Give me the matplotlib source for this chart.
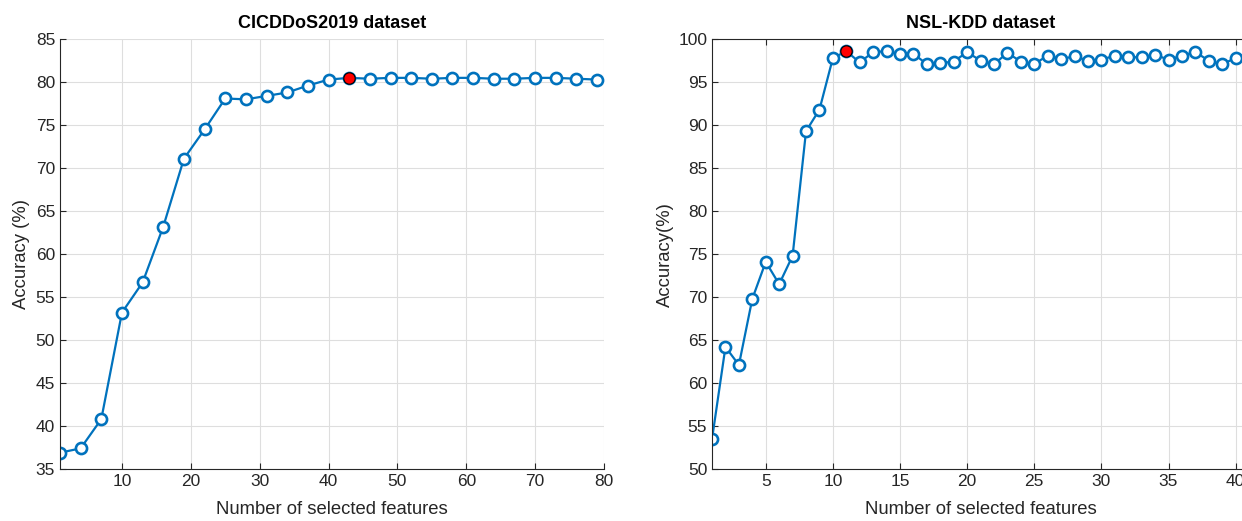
#!/usr/bin/env python3
"""Accuracy versus number of selected features, two datasets side by side."""

import matplotlib

matplotlib.use("Agg")
import matplotlib.pyplot as plt

plt.rcParams["font.family"] = ["Liberation Sans", "DejaVu Sans"]

# CICDDoS2019: every third feature count
cic_features = list(range(1, 80, 3))
cic_accuracy = [
    36.9, 37.4, 40.8, 53.2, 56.7, 63.2, 71.1, 74.5, 78.1, 78.0,
    78.4, 78.8, 79.6, 80.3, 80.5, 80.4, 80.5, 80.5, 80.4, 80.5,
    80.5, 80.4, 80.4, 80.5, 80.5, 80.4, 80.3,
]
cic_best = 43

# NSL-KDD: 1..40 features
nsl_features = list(range(1, 41))
nsl_accuracy = [
    53.5, 64.2, 62.1, 69.8, 74.1, 71.5, 74.8, 89.3, 91.8, 97.8,
    98.6, 97.3, 98.5, 98.6, 98.3, 98.3, 97.1, 97.2, 97.4, 98.5,
    97.5, 97.1, 98.4, 97.4, 97.1, 98.1, 97.7, 98.0, 97.5, 97.6,
    98.1, 97.9, 97.9, 98.2, 97.6, 98.1, 98.5, 97.5, 97.1, 97.8,
]
nsl_best = 11

LINE_BLUE = "#0072BD"
AX_COLOR = "#262626"
GRID_COLOR = "#dedede"


def style_axes(ax, box):
    """Apply MATLAB-like look to an axes."""
    ax.grid(True, color=GRID_COLOR, linewidth=0.8)
    ax.set_axisbelow(True)
    for side in ("left", "bottom", "top", "right"):
        ax.spines[side].set_color(AX_COLOR)
        ax.spines[side].set_linewidth(0.8)
    if not box:
        ax.spines["top"].set_visible(False)
        ax.spines["right"].set_visible(False)
    ax.tick_params(
        direction="in",
        length=4,
        width=0.8,
        color=AX_COLOR,
        labelcolor=AX_COLOR,
        labelsize=12.5,
        top=box,
        right=False,
    )


def plot_curve(ax, x, y, best):
    ax.plot(
        x, y, "-o",
        color=LINE_BLUE,
        linewidth=1.6,
        markersize=8,
        markerfacecolor="white",
        markeredgecolor=LINE_BLUE,
        markeredgewidth=1.9,
    )
    ax.plot(
        [best], [y[x.index(best)]], "o",
        markersize=8.2,
        markerfacecolor="red",
        markeredgecolor="black",
        markeredgewidth=0.8,
    )


fig = plt.figure(figsize=(12.42, 5.21), dpi=100)

ax1 = fig.add_axes([0.0483, 0.0998, 0.438, 0.825])
plot_curve(ax1, cic_features, cic_accuracy, cic_best)
ax1.set_xlim(1, 80)
ax1.set_ylim(35, 85)
ax1.set_xticks(range(10, 81, 10))
ax1.set_yticks(range(35, 86, 5))
style_axes(ax1, box=False)
ax1.set_title("CICDDoS2019 dataset", fontsize=13, fontweight="bold", pad=8)
ax1.set_xlabel("Number of selected features", fontsize=13.3, color=AX_COLOR, labelpad=9)
ax1.set_ylabel("Accuracy (%)", fontsize=13.3, color=AX_COLOR, labelpad=4)

ax2 = fig.add_axes([0.5733, 0.0998, 0.4324, 0.825])
plot_curve(ax2, nsl_features, nsl_accuracy, nsl_best)
ax2.set_xlim(1, 41)
ax2.set_ylim(50, 100)
ax2.set_xticks(range(5, 41, 5))
ax2.set_yticks(range(50, 101, 5))
style_axes(ax2, box=True)
ax2.set_title("NSL-KDD dataset", fontsize=13, fontweight="bold", pad=8)
ax2.set_xlabel("Number of selected features", fontsize=13.3, color=AX_COLOR, labelpad=9)
ax2.set_ylabel("Accuracy(%)", fontsize=13.3, color=AX_COLOR, labelpad=3)

fig.savefig("out.png", dpi=100)
